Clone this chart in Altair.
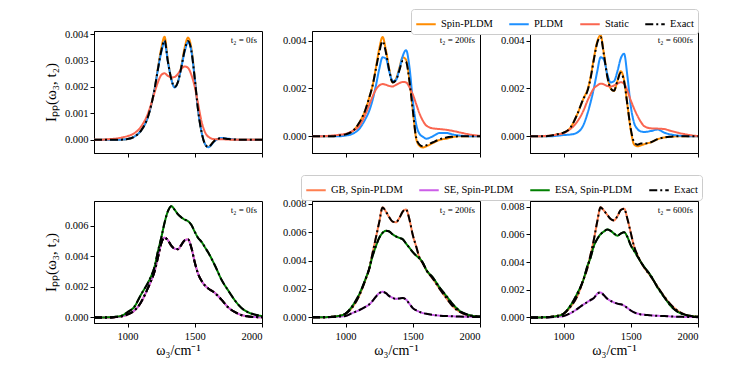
import altair as alt
import pandas as pd

FONT = "Liberation Serif"

XVALS = [750, 800, 850, 900, 950, 1000, 1050, 1100, 1150, 1175, 1200, 1225, 1250, 1275,
         1300, 1325, 1350, 1375, 1400, 1425, 1450, 1475, 1500, 1525, 1550, 1575, 1600,
         1650, 1700, 1750, 1800, 1850, 1900, 1950, 2000]

# values in units of 1e-3
TOP_T0 = {
    "Spin-PLDM": [0, 0, 0, 0, 0.005, 0.03, 0.12, 0.35, 0.85, 1.3, 1.9, 2.7, 3.45, 3.9, 3.0, 2.3, 2.0, 2.2, 2.8, 3.5, 3.87, 3.45, 2.35, 1.1, 0.3, -0.15, -0.27, -0.02, 0.06, 0.03, 0.01, 0, 0, 0, 0],
    "PLDM": [0, 0, 0, 0, 0.005, 0.03, 0.12, 0.35, 0.85, 1.3, 1.9, 2.65, 3.3, 3.7, 2.95, 2.3, 1.98, 2.2, 2.75, 3.35, 3.7, 3.35, 2.3, 1.1, 0.3, -0.15, -0.28, -0.04, 0.07, 0.04, 0.01, 0, 0, 0, 0],
    "Static": [0, 0, 0.02, 0.04, 0.08, 0.14, 0.25, 0.5, 0.98, 1.35, 1.78, 2.17, 2.45, 2.52, 2.42, 2.36, 2.38, 2.5, 2.68, 2.78, 2.72, 2.45, 2.0, 1.35, 0.7, 0.3, 0.12, 0.02, 0.02, 0.01, 0, 0, 0, 0, 0],
    "Exact": [0, 0, 0, 0, 0.005, 0.03, 0.12, 0.35, 0.85, 1.3, 1.9, 2.65, 3.35, 3.77, 2.95, 2.3, 2.0, 2.2, 2.75, 3.4, 3.74, 3.35, 2.3, 1.1, 0.3, -0.15, -0.27, -0.02, 0.06, 0.03, 0.01, 0, 0, 0, 0],
}
TOP_T200 = {
    "Spin-PLDM": [0, 0, 0, 0, 0.03, 0.08, 0.2, 0.55, 1.15, 1.6, 2.1, 2.85, 3.65, 4.15, 3.6, 2.8, 2.25, 2.4, 2.85, 3.3, 3.2, 2.35, 1.1, -0.1, -0.4, -0.47, -0.42, -0.28, -0.15, -0.1, -0.03, 0, 0, 0, 0],
    "PLDM": [0, 0, 0, 0, 0.0, 0.03, 0.1, 0.3, 0.75, 1.05, 1.5, 2.1, 2.8, 3.3, 3.25, 2.7, 2.3, 2.35, 2.8, 3.35, 3.6, 2.9, 1.5, 0.5, 0.1, -0.02, -0.1, 0.0, 0.14, 0.14, 0.07, 0.03, 0.01, 0, 0],
    "Static": [0, 0, 0.01, 0.03, 0.06, 0.1, 0.22, 0.42, 0.95, 1.3, 1.65, 1.95, 2.12, 2.18, 2.15, 2.1, 2.08, 2.15, 2.22, 2.27, 2.25, 2.05, 1.75, 1.35, 0.95, 0.65, 0.45, 0.33, 0.3, 0.27, 0.22, 0.16, 0.1, 0.05, 0.02],
    "Exact": [0, 0, 0, 0, 0.03, 0.08, 0.2, 0.55, 1.15, 1.6, 2.1, 2.8, 3.5, 3.97, 3.5, 2.75, 2.25, 2.35, 2.75, 3.15, 3.1, 2.3, 1.1, -0.05, -0.35, -0.42, -0.38, -0.25, -0.13, -0.05, -0.02, 0, 0, 0, 0],
}
TOP_T600 = {
    "Spin-PLDM": [0, 0, 0, 0.02, 0.08, 0.15, 0.35, 0.9, 1.6, 1.9, 2.45, 3.25, 3.95, 4.22, 3.45, 2.55, 2.0, 1.9, 2.3, 2.72, 2.35, 1.3, 0.25, -0.35, -0.42, -0.38, -0.33, -0.25, -0.12, -0.05, -0.02, 0, 0, 0, 0],
    "PLDM": [0, 0, 0, 0, 0.02, 0.05, 0.07, 0.15, 0.5, 0.9, 1.4, 2.0, 2.7, 3.3, 3.2, 2.6, 2.25, 2.3, 2.7, 3.25, 3.45, 2.5, 1.25, 0.55, 0.3, 0.2, 0.18, 0.22, 0.28, 0.15, 0.07, 0.03, 0.01, 0, 0],
    "Static": [0, 0, 0.01, 0.03, 0.07, 0.13, 0.3, 0.6, 1.1, 1.45, 1.75, 2.0, 2.12, 2.2, 2.17, 2.1, 2.08, 2.12, 2.2, 2.26, 2.2, 1.9, 1.5, 1.15, 0.85, 0.6, 0.42, 0.33, 0.32, 0.3, 0.22, 0.15, 0.09, 0.04, 0.01],
    "Exact": [0, 0, 0, 0.02, 0.08, 0.15, 0.35, 0.9, 1.6, 1.85, 2.4, 3.2, 3.9, 4.15, 3.4, 2.5, 2.0, 1.9, 2.3, 2.65, 2.3, 1.3, 0.3, -0.25, -0.35, -0.3, -0.3, -0.25, -0.12, -0.05, -0.02, 0, 0, 0, 0],
}

BOT_T0 = {
    "GB, Spin-PLDM": [0, 0, 0, 0.02, 0.06, 0.2, 0.45, 1.0, 1.9, 2.4, 3.0, 3.9, 4.85, 5.22, 5.05, 4.7, 4.5, 4.47, 4.75, 5.05, 5.1, 4.55, 3.6, 2.85, 2.4, 2.1, 1.9, 1.6, 1.15, 0.65, 0.35, 0.15, 0.07, 0.03, 0.01],
    "SE, Spin-PLDM": [0, 0, 0, 0.02, 0.06, 0.2, 0.45, 1.0, 1.9, 2.4, 3.0, 3.9, 4.85, 5.22, 5.05, 4.7, 4.5, 4.47, 4.75, 5.05, 5.1, 4.55, 3.6, 2.85, 2.4, 2.1, 1.9, 1.6, 1.15, 0.65, 0.35, 0.15, 0.07, 0.03, 0.01],
    "ESA, Spin-PLDM": [0, 0, 0.01, 0.04, 0.1, 0.35, 0.7, 1.5, 2.25, 2.7, 3.3, 4.3, 5.2, 6.2, 6.95, 7.28, 7.05, 6.75, 6.55, 6.4, 6.3, 6.05, 5.6, 5.2, 4.95, 4.6, 4.25, 3.4, 2.45, 1.75, 1.1, 0.6, 0.33, 0.18, 0.1],
}
BOT_T200 = {
    "GB, Spin-PLDM": [0, 0, 0.01, 0.04, 0.1, 0.26, 0.7, 1.5, 2.7, 3.4, 4.5, 5.6, 6.7, 7.75, 7.45, 7.05, 6.75, 6.7, 7.0, 7.45, 7.6, 6.9, 5.8, 5.0, 4.2, 3.8, 3.35, 2.7, 2.0, 1.35, 0.75, 0.38, 0.18, 0.08, 0.04],
    "SE, Spin-PLDM": [0, 0, 0.01, 0.02, 0.05, 0.1, 0.3, 0.5, 0.75, 0.9, 1.15, 1.45, 1.7, 1.8, 1.7, 1.5, 1.38, 1.3, 1.33, 1.37, 1.25, 0.95, 0.65, 0.5, 0.38, 0.3, 0.25, 0.17, 0.12, 0.09, 0.07, 0.05, 0.04, 0.03, 0.02],
    "ESA, Spin-PLDM": [0, 0, 0.01, 0.04, 0.1, 0.26, 0.8, 1.6, 2.75, 3.4, 4.3, 5.0, 5.6, 5.95, 6.1, 6.05, 5.85, 5.7, 5.6, 5.5, 5.2, 4.9, 4.6, 4.35, 4.15, 3.85, 3.35, 2.8, 2.1, 1.5, 0.9, 0.45, 0.22, 0.1, 0.05],
}
BOT_T600 = {
    "GB, Spin-PLDM": [0, 0, 0.01, 0.04, 0.1, 0.27, 0.75, 1.5, 2.8, 3.5, 4.5, 5.6, 6.9, 7.95, 7.7, 7.4, 7.1, 7.0, 7.3, 7.75, 7.85, 7.1, 6.1, 5.1, 4.5, 4.0, 3.6, 2.95, 2.2, 1.5, 0.9, 0.48, 0.22, 0.1, 0.05],
    "SE, Spin-PLDM": [0, 0, 0.01, 0.02, 0.05, 0.1, 0.3, 0.6, 0.95, 1.1, 1.25, 1.4, 1.7, 1.8, 1.6, 1.35, 1.2, 1.08, 1.0, 0.95, 0.85, 0.68, 0.5, 0.37, 0.28, 0.22, 0.2, 0.15, 0.12, 0.1, 0.07, 0.05, 0.04, 0.03, 0.02],
    "ESA, Spin-PLDM": [0, 0, 0.01, 0.04, 0.1, 0.27, 0.85, 1.7, 2.8, 3.65, 4.3, 5.15, 5.65, 6.0, 6.2, 6.35, 6.25, 6.05, 5.9, 6.05, 6.15, 5.8, 5.2, 4.8, 4.4, 4.0, 3.65, 3.0, 2.15, 1.45, 0.8, 0.4, 0.2, 0.1, 0.05],
}

TOP_SERIES = ["Spin-PLDM", "PLDM", "Static", "Exact"]
TOP_COLORS = ["#ff8c00", "#1e90ff", "#fa6650", "#000000"]
BOT_SERIES = ["GB, Spin-PLDM", "SE, Spin-PLDM", "ESA, Spin-PLDM", "Exact"]
BOT_COLORS = ["#ff7f50", "#cc5ee8", "#008000", "#000000"]
DASHES = [[1, 0], [1, 0], [1, 0], [8, 3, 2, 3]]

LABELS = ["t₂ = 0fs", "t₂ = 200fs", "t₂ = 600fs"]

W, H = 168, 122
YTITLE = "Iₚₚ(ω₃, t₂)"
XTITLE = "ω₃/cm⁻¹"


def make_df(data, bottom):
    rows = []
    for name, vals in data.items():
        for x, v in zip(XVALS, vals):
            rows.append({"x": x, "y": v * 1e-3, "series": name, "curve": name})
        if bottom:
            for x, v in zip(XVALS, vals):
                rows.append({"x": x, "y": v * 1e-3, "series": "Exact", "curve": "Exact " + name})
    return pd.DataFrame(rows)


def panel(data, bottom, ydom, yticks, label, col, legend):
    series = BOT_SERIES if bottom else TOP_SERIES
    colors = BOT_COLORS if bottom else TOP_COLORS
    df = make_df(data, bottom)
    color = alt.Color("series:N", scale=alt.Scale(domain=series, range=colors), legend=legend)
    dash = alt.StrokeDash("series:N", scale=alt.Scale(domain=series, range=DASHES), legend=legend)
    xax = alt.Axis(values=[1000, 1500, 2000], labels=bottom, format="d",
                   title=XTITLE if bottom else None,
                   titleFontSize=14, labelPadding=4, titlePadding=2)
    yax = alt.Axis(values=yticks, format=".3f", title=YTITLE if col == 0 else None,
                   titleFontSize=15, titlePadding=6)
    x = alt.X("x:Q", scale=alt.Scale(domain=[750, 2000], nice=False, zero=False), axis=xax)
    y = alt.Y("y:Q", scale=alt.Scale(domain=ydom, nice=False, zero=False), axis=yax)
    layers = []
    for s in series:
        layers.append(
            alt.Chart(df)
            .transform_filter(alt.datum.series == s)
            .mark_line(strokeWidth=2, interpolate="monotone", clip=True)
            .encode(x=x, y=y, color=color, strokeDash=dash, detail="curve:N")
        )
    txt = alt.Chart(pd.DataFrame({"t": [label]})).mark_text(
        align="right", baseline="top", font=FONT, fontSize=9, color="black"
    ).encode(x=alt.value(W - 5), y=alt.value(5), text="t:N")
    layers.append(txt)
    return alt.layer(*layers).properties(width=W, height=H)


def leg(lx, ly):
    return alt.Legend(orient="none", legendX=lx, legendY=ly, direction="horizontal", title=None,
                      symbolType="stroke", symbolStrokeWidth=2, symbolSize=380,
                      labelFont=FONT, labelFontSize=10.5, labelColor="black", columnPadding=12,
                      strokeColor="#cccccc", padding=4, cornerRadius=3, fillColor="white",
                      labelLimit=300, symbolOffset=0)


panels = [
    panel(TOP_T0, False, [-0.0005, 0.00412], [0, 0.001, 0.002, 0.003, 0.004], LABELS[0], 0, None),
    panel(TOP_T200, False, [-0.0007, 0.0044], [0, 0.002, 0.004], LABELS[1], 1, None),
    panel(TOP_T600, False, [-0.0007, 0.0044], [0, 0.002, 0.004], LABELS[2], 2, leg(-119, -22)),
    panel(BOT_T0, True, [-0.00036, 0.00762], [0, 0.002, 0.004, 0.006], LABELS[0], 0, None),
    panel(BOT_T200, True, [-0.0004, 0.0082], [0, 0.002, 0.004, 0.006, 0.008], LABELS[1], 1, None),
    panel(BOT_T600, True, [-0.0004, 0.0084], [0, 0.002, 0.004, 0.006, 0.008], LABELS[2], 2, leg(-229, -26)),
]

chart = (
    alt.concat(*panels, columns=3, spacing=alt.RowColnumber(row=48, column=50))
    .resolve_scale(color="independent", strokeDash="independent")
    .properties(padding={"left": 34, "top": 0, "right": 5, "bottom": 5}, bounds="flush")
    .configure_view(stroke="black", strokeWidth=1)
    .configure_axis(domainColor="black", tickColor="black", labelFont=FONT, titleFont=FONT,
                    labelColor="black", titleColor="black", grid=False, tickSize=4,
                    labelFontSize=10.5, titleFontWeight="normal")
)

chart.save("out.html", embed_options={"renderer": "svg", "actions": False})
